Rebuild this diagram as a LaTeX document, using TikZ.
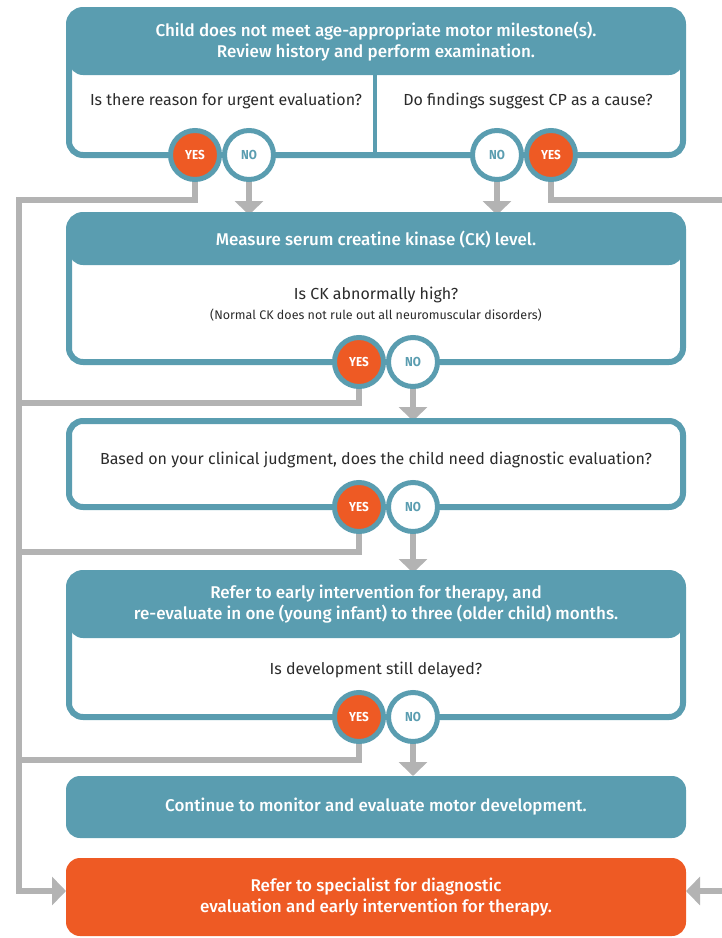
\documentclass[tikz,border=0pt]{standalone}
\usepackage{fontspec}
\setmainfont{Fira Sans}[BoldFont={Fira Sans Medium}]
\newfontfamily\lblfont{Fira Sans}[FakeStretch=0.9]
\usetikzlibrary{arrows.meta}
\definecolor{tealc}{HTML}{5A9DB0}
\definecolor{orangec}{HTML}{EE5A24}
\definecolor{grayc}{HTML}{B3B3B3}
\definecolor{txtc}{HTML}{2B2B2B}
\pgfdeclarelayer{bg}
\pgfsetlayers{bg,main}
\tikzset{
 framebox/.style={draw=tealc, line width=6pt, fill=white, rounded corners=14pt, minimum width=614pt, inner sep=0pt, outer sep=0pt},
 hdr/.style={path picture={\fill[tealc] (path picture bounding box.north west) rectangle ([yshift=-#1]path picture bounding box.north east);}},
 headtxt/.style={text=white, font=\bfseries\fontsize{17}{21}\selectfont, align=center, inner sep=0pt},
 qtxt/.style={text=txtc, font=\fontsize{16}{20}\selectfont, align=center, inner sep=0pt},
 smalltxt/.style={text=txtc, font=\fontsize{12.5}{14}\selectfont, align=center, inner sep=0pt},
 yesc/.style={circle, draw=tealc, line width=5pt, fill=orangec, minimum size=49pt, inner sep=0pt, text=white, font=\lblfont\bfseries\fontsize{13}{13}\selectfont},
 noc/.style={yesc, fill=white, text=tealc},
 solidbox/.style={rounded corners=14pt, minimum width=620pt, inner sep=0pt, outer sep=0pt, headtxt},
 gline/.style={draw=grayc, line width=6pt},
 garrow/.style={gline, -{Triangle[width=28pt,length=14pt]}},
}
\begin{document}
\begin{tikzpicture}[x=1pt,y=-1pt]
\useasboundingbox (0,0) rectangle (722,938);
\clip (0,0) rectangle (722,938);
% boxes
\node[framebox, minimum height=145pt, hdr=65pt] (b1) at (376,82.5) {};
\draw[tealc, line width=4pt] (375,75) -- (375,155);
\node[headtxt] (h1) at (376,42) {Child does not meet age-appropriate motor milestone(s).\\Review history and perform examination.};
\node[qtxt] (q1a) at (226,101) {Is there reason for urgent evaluation?};
\node[qtxt] (q1b) at (528,101) {Do findings suggest CP as a cause?};

\node[framebox, minimum height=147pt, hdr=50pt] (b2) at (376,288.5) {};
\node[headtxt] (h2) at (376,240) {Measure serum creatine kinase (CK) level.};
\node[qtxt] (q2) at (376,295) {Is CK abnormally high?};
\node[smalltxt] (q2s) at (376,315) {(Normal CK does not rule out all neuromuscular disorders)};

\node[framebox, minimum height=86pt] (b3) at (376,464) {};
\node[qtxt] (q3) at (376,460) {Based on your clinical judgment, does the child need diagnostic evaluation?};

\node[framebox, minimum height=144pt, hdr=65pt] (b4) at (376,645) {};
\node[headtxt] (h4) at (376,604) {Refer to early intervention for therapy, and\\re-evaluate in one (young infant) to three (older child) months.};
\node[qtxt] (q4) at (376,670) {Is development still delayed?};

\node[solidbox, fill=tealc, minimum height=62pt] (b5) at (376,807) {Continue to monitor and evaluate motor development.};
\node[solidbox, fill=orangec, minimum height=78pt] (b6) at (376,897) {Refer to specialist for diagnostic\\evaluation and early intervention for therapy.};

% decision circles
\node[yesc] (y1) at (195,155) {YES};
\node[noc] (n1) at (249,155) {NO};
\node[noc] (n1r) at (497,155) {NO};
\node[yesc] (y1r) at (551,155) {YES};
\node[yesc] (y2) at (359,362) {YES};
\node[noc] (n2) at (413,362) {NO};
\node[yesc] (y3) at (359,507) {YES};
\node[noc] (n3) at (413,507) {NO};
\node[yesc] (y4) at (359,717) {YES};
\node[noc] (n4) at (413,717) {NO};

% connectors
\begin{pgfonlayer}{bg}
\coordinate (l1) at (19,200);
\coordinate (r1) at (745,200);
\coordinate (l2) at (19,403);
\coordinate (l3) at (19,552);
\coordinate (l4) at (19,760);
\draw[garrow] (y1.center) |- (l1) |- ([yshift=6pt]b6.west);
\draw[garrow] (y1r.center) |- (r1) |- ([yshift=6pt]b6.east);
\draw[gline] (y2.center) |- (l2);
\draw[gline] (y3.center) |- (l3);
\draw[gline] (y4.center) |- (l4);
\draw[garrow] (n1.center) -- (n1.center |- b2.north);
\draw[garrow] (n1r.center) -- (n1r.center |- b2.north);
\draw[garrow] (n2.center) -- (n2.center |- b3.north);
\draw[garrow] (n3.center) -- (n3.center |- b4.north);
\draw[garrow] (n4.center) -- (n4.center |- b5.north);
\end{pgfonlayer}
\end{tikzpicture}
\end{document}
